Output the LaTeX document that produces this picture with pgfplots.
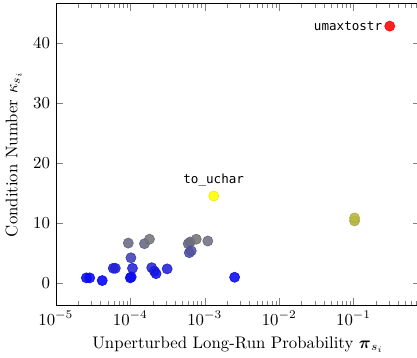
\documentclass[border=0pt]{standalone}
\usepackage{amsmath}
\usepackage{fontspec}
\newfontfamily\monofont{DejaVu Sans Mono}
\usepackage{pgfplots}
\pgfplotsset{compat=1.18}
\begin{document}
\begin{tikzpicture}
\begin{axis}[
  scale only axis,
  width=217pt, height=180pt,
  xmode=log,
  xmin=1e-5, xmax=0.78,
  ymin=-3.7, ymax=46.7,
  ytick={0,10,20,30,40},
  xlabel={Unperturbed Long-Run Probability $\boldsymbol{\pi}_{s_i}$},
  ylabel={Condition Number $\kappa_{s_i}$},
  colormap={kappa}{rgb255(0cm)=(0,0,255) rgb255(6.6cm)=(110,110,128) rgb255(14.1cm)=(255,255,0) rgb255(42.5cm)=(255,0,0)},
  point meta min=0.4, point meta max=42.9,
]
\addplot[scatter, only marks, mark=*, mark size=3pt,
  point meta=y,
  scatter/use mapped color={draw=mapped color!92!black, fill=mapped color},
  fill opacity=0.88, draw opacity=0.9]
  table[row sep=\\] {
  x y\\
  2.57e-5 0.9\\
  2.85e-5 0.9\\
  4.2e-5 0.45\\
  5.9e-5 2.5\\
  6.3e-5 2.5\\
  9.4e-5 6.7\\
  1.02e-4 4.25\\
  1.07e-4 2.5\\
  1.0e-4 0.9\\
  1.03e-4 1.05\\
  1.55e-4 6.6\\
  1.81e-4 7.35\\
  1.94e-4 2.6\\
  2.11e-4 2.0\\
  2.22e-4 1.6\\
  3.13e-4 2.4\\
  6.0e-4 6.6\\
  6.4e-4 6.9\\
  7.7e-4 7.35\\
  1.1e-3 7.05\\
  6.2e-4 5.1\\
  6.6e-4 5.4\\
  2.52e-3 1.0\\
  1.32e-3 14.57\\
  0.103 10.4\\
  0.103 10.9\\
  0.306 42.9\\
  };
\node[anchor=south, yshift=2pt, font=\monofont\fontsize{7.5}{9}\selectfont] at (axis cs:1.32e-3,14.57) {to\_uchar};
\node[anchor=east, xshift=-1pt, font=\monofont\fontsize{7.5}{9}\selectfont] at (axis cs:0.306,42.9) {umaxtostr};
\end{axis}
\coordinate (bbsw) at (current bounding box.south west);
\coordinate (bbne) at (current bounding box.north east);
\pgfresetboundingbox
\path[use as bounding box] (bbsw) rectangle ([xshift=-2pt,yshift=1.8pt]bbne);
\end{tikzpicture}
\end{document}
